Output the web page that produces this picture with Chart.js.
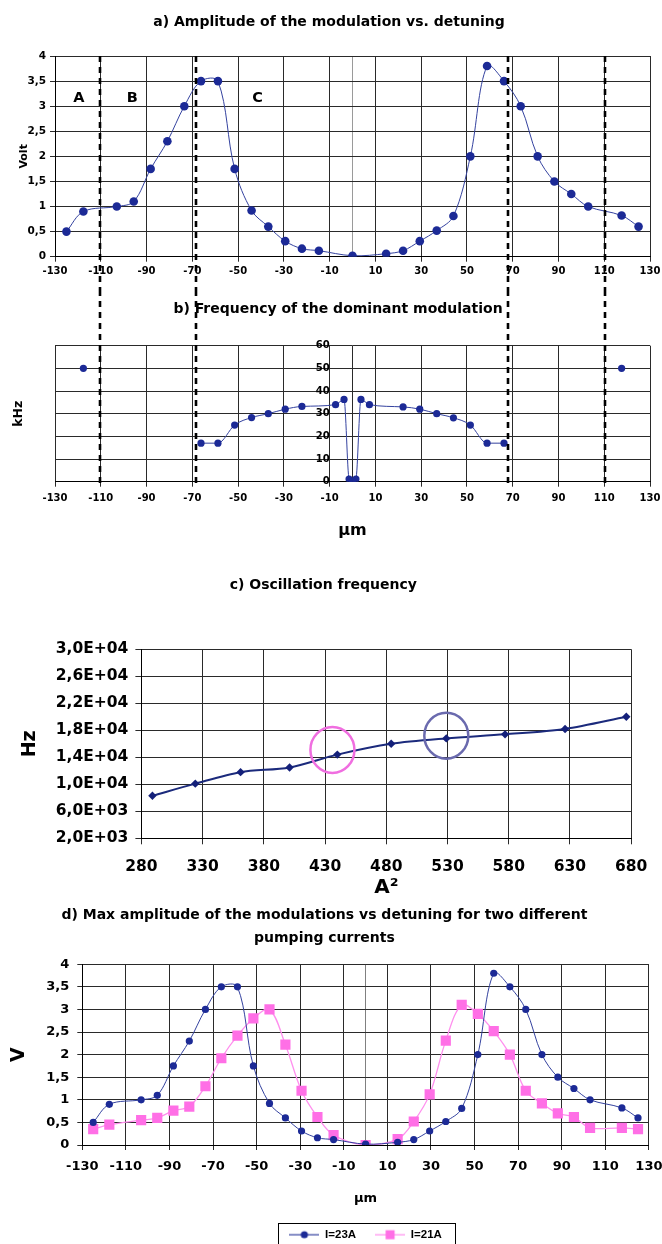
<!DOCTYPE html>
<html>
<head>
<meta charset="utf-8">
<script src="https://cdn.jsdelivr.net/npm/chart.js@4.4.1/dist/chart.umd.min.js"></script>
<style>
html,body{margin:0;padding:0;background:#fff;}
body{width:662px;height:1244px;position:relative;overflow:hidden;}
.box{position:absolute;left:0;width:662px;}
</style>
</head>
<body>
<div class="box" style="top:0;height:290px"><canvas id="ca" width="662" height="290"></canvas></div>
<div class="box" style="top:290px;height:255px"><canvas id="cb" width="662" height="255"></canvas></div>
<div class="box" style="top:545px;height:355px"><canvas id="cc" width="662" height="355"></canvas></div>
<div class="box" style="top:900px;height:344px"><canvas id="cd" width="662" height="344"></canvas></div>
<script>
// ---------------- data ----------------
const detuning = [-125, -117.6, -103, -95.6, -88.2, -80.9, -73.5, -66.2, -58.8, -51.5, -44.1, -36.8, -29.4, -22.1, -14.7, 0, 14.7, 22.1, 29.4, 36.8, 44.1, 51.5, 58.8, 66.2, 73.5, 80.9, 88.2, 95.6, 103, 117.6, 125];
const ampI23 = [0.5, 0.9, 1.0, 1.1, 1.75, 2.3, 3.0, 3.5, 3.5, 1.75, 0.92, 0.6, 0.31, 0.16, 0.12, 0.02, 0.06, 0.12, 0.31, 0.52, 0.81, 2.0, 3.8, 3.5, 3.0, 2.0, 1.5, 1.25, 1.0, 0.82, 0.6];
const ampI21 = [0.35, 0.45, 0.55, 0.6, 0.76, 0.85, 1.3, 1.92, 2.42, 2.8, 3.0, 2.22, 1.2, 0.62, 0.22, 0.0, 0.13, 0.52, 1.12, 2.31, 3.1, 2.9, 2.52, 2.0, 1.2, 0.92, 0.7, 0.62, 0.38, 0.38, 0.35];
const regionNames = ['A', 'B', 'C'];
const regionNameX = [-119.6, -96.2, -41.5];
const regionNameY = [3.15, 3.15, 3.15];
const regionBounds = [-110.5, -68.5, 68, 110.5];

const domX = [-66.2, -58.8, -51.5, -44.1, -36.8, -29.4, -22.1, -7.4, -3.7, -1.5, 0, 1.5, 3.7, 7.4, 22.1, 29.4, 36.8, 44.1, 51.5, 58.8, 66.2];
const domKHz = [17, 17, 25, 28.3, 30, 32, 33.2, 34, 36.3, 1.2, 0, 1.2, 36.3, 34, 33, 32, 30, 28.2, 25, 17, 17];
const isolatedX = [-117.6, 117.6];
const isolatedKHz = [50, 50];

const a2 = [289, 324, 361, 401, 440, 484, 529, 577, 626, 676];
const oscHz = [8300, 10100, 11800, 12500, 14400, 16000, 16800, 17400, 18200, 20000];
const ringA2 = [436, 529];
const ringHz = [15100, 17200];
const ringColors = ['#f06ee0', '#6a6aae'];

const seriesNames = ['I=23A', 'I=21A'];

// ---------------- helpers ----------------
const FONT = "'DejaVu Sans', 'Liberation Sans', Arial, sans-serif";
const LFONT = "'Liberation Sans', Arial, sans-serif";
Chart.defaults.font.family = FONT;
Chart.defaults.font.weight = 'bold';
Chart.defaults.color = '#000';
Chart.defaults.animation = false;
Chart.defaults.responsive = false;
Chart.defaults.devicePixelRatio = 1;
Chart.defaults.plugins.tooltip.enabled = false;

const BLUE = '#1c2a96', BLUE_LINE = '#34429f';
const PINK = '#ff6fe6', PINK_LINE = '#ff8fee';
const GRID = '#2a2a2a';

const pts = (xs, ys) => xs.map((x, i) => ({x, y: ys[i]}));
const comma = v => String(v).replace('.', ',');
const expFmt = v => {
  const [m, e] = Number(v).toExponential(1).split('e');
  const n = Math.abs(parseInt(e, 10));
  return m.replace('.', ',') + 'E' + (e[0] === '-' ? '-' : '+') + String(n).padStart(2, '0');
};
const addZeroTick = s => {
  if (!s.ticks.some(t => t.value === 0)) {
    s.ticks.push({value: 0});
    s.ticks.sort((p, q) => p.value - q.value);
  }
};
const noSidePad = h => s => { s.height = h; s.paddingLeft = 0; s.paddingRight = 0; };

const dashedBounds = {
  id: 'dashedBounds',
  afterDraw(chart, args, o) {
    const {ctx, scales: {x}, chartArea} = chart;
    const y0 = o.fromTop ? chartArea.top : 0;
    const y1 = o.fromTop ? chart.height : chartArea.bottom + 4;
    ctx.save();
    ctx.strokeStyle = '#000';
    ctx.lineWidth = 2.6;
    ctx.setLineDash([6, 5]);
    regionBounds.forEach(v => {
      const px = Math.round(x.getPixelForValue(v));
      ctx.beginPath(); ctx.moveTo(px, y0); ctx.lineTo(px, y1); ctx.stroke();
    });
    ctx.restore();
  }
};
const regionText = {
  id: 'regionText',
  afterDatasetsDraw(chart) {
    const {ctx, scales: {x, y}} = chart;
    ctx.save();
    ctx.font = 'bold 14.5px ' + FONT;
    ctx.fillStyle = '#000';
    ctx.textAlign = 'center';
    ctx.textBaseline = 'middle';
    regionNames.forEach((t, i) => ctx.fillText(t, x.getPixelForValue(regionNameX[i]), y.getPixelForValue(regionNameY[i])));
    ctx.restore();
  }
};
const rings = {
  id: 'rings',
  afterDatasetsDraw(chart) {
    const {ctx, scales: {x, y}} = chart;
    ctx.save();
    ctx.lineWidth = 2.5;
    ringA2.forEach((v, i) => {
      ctx.strokeStyle = ringColors[i];
      ctx.beginPath();
      ctx.ellipse(x.getPixelForValue(v), y.getPixelForValue(ringHz[i]), 22, 23, 0, 0, Math.PI * 2);
      ctx.stroke();
    });
    ctx.restore();
  }
};
const legendFrame = {
  id: 'legendFrame',
  afterDraw(chart) {
    const lg = chart.legend;
    if (!lg || !lg.legendHitBoxes || !lg.legendHitBoxes.length) return;
    const hb = lg.legendHitBoxes;
    const l = Math.min(...hb.map(h => h.left)) - 11;
    const r = Math.max(...hb.map(h => h.left + h.width)) + 13;
    const cy = hb[0].top + hb[0].height / 2;
    const ctx = chart.ctx;
    ctx.save();
    ctx.strokeStyle = '#000';
    ctx.lineWidth = 1;
    ctx.strokeRect(Math.round(l) + 0.5, Math.round(cy - 12) + 0.5, Math.round(r - l), 24);
    ctx.restore();
  }
};
function legendIcon(lineColor, color, square) {
  const c = document.createElement('canvas');
  c.width = 30; c.height = 12;
  const g = c.getContext('2d');
  g.strokeStyle = lineColor; g.lineWidth = 1.2;
  g.beginPath(); g.moveTo(0, 6); g.lineTo(30, 6); g.stroke();
  g.fillStyle = color;
  if (square) { g.fillRect(10.5, 1.5, 9, 9); }
  else { g.beginPath(); g.arc(15, 6, 3.6, 0, Math.PI * 2); g.fill(); }
  return c;
}
const gridX = zeroColor => ({
  color: c => (c.tick && c.tick.value === 0) ? zeroColor : GRID,
  tickColor: c => (c.tick && c.tick.value === 0) ? 'rgba(0,0,0,0)' : GRID,
  tickLength: 5, lineWidth: 1
});

// ---------------- a) ----------------
new Chart(document.getElementById('ca'), {
  type: 'scatter',
  data: {datasets: [{
    data: pts(detuning, ampI23), showLine: true, borderColor: BLUE_LINE, borderWidth: 1, tension: 0.35,
    pointRadius: 4.3, pointBackgroundColor: BLUE, pointBorderColor: BLUE, pointBorderWidth: 0
  }]},
  options: {
    layout: {padding: {left: 8, right: 12, top: 0, bottom: 0}},
    plugins: {
      legend: {display: false},
      title: {display: true, text: 'a) Amplitude of the modulation vs. detuning', font: {size: 14, weight: 'bold'}, color: '#000', padding: {top: 13.6, bottom: 25.6}},
      dashedBounds: {fromTop: true}
    },
    scales: {
      x: {
        type: 'linear', min: -130, max: 130,
        ticks: {stepSize: 20, autoSkip: false, maxRotation: 0, font: {size: 10}, padding: 4, callback: v => v === 0 ? '' : String(v)},
        afterBuildTicks: addZeroTick,
        grid: gridX('#9a9a9a'),
        border: {color: '#000'},
        afterFit: noSidePad(33.3)
      },
      y: {
        min: 0, max: 4,
        ticks: {stepSize: 0.5, font: {size: 10.5}, padding: 4, callback: comma},
        grid: {color: GRID, tickColor: GRID, tickLength: 5},
        border: {color: '#000'},
        title: {display: true, text: 'Volt', font: {size: 11, weight: 'bold'}, padding: {top: 10, bottom: 0}},
        afterFit: s => { s.width = 47; }
      }
    }
  },
  plugins: [dashedBounds, regionText]
});

// ---------------- b) ----------------
new Chart(document.getElementById('cb'), {
  type: 'scatter',
  data: {datasets: [
    {data: pts(domX, domKHz), showLine: true, borderColor: BLUE_LINE, borderWidth: 1, cubicInterpolationMode: 'monotone',
     pointRadius: 3.6, pointBackgroundColor: BLUE, pointBorderColor: BLUE, pointBorderWidth: 0},
    {data: pts(isolatedX, isolatedKHz), showLine: false,
     pointRadius: 3.6, pointBackgroundColor: BLUE, pointBorderColor: BLUE, pointBorderWidth: 0}
  ]},
  options: {
    layout: {padding: {left: 26, right: 12, top: 0, bottom: 0}},
    plugins: {
      legend: {display: false},
      title: {display: true, text: 'b) Frequency of the dominant modulation', font: {size: 14, weight: 'bold'}, color: '#000', padding: {top: 10.6, bottom: 28.3}},
      dashedBounds: {fromTop: false}
    },
    scales: {
      x: {
        type: 'linear', min: -130, max: 130,
        ticks: {stepSize: 20, autoSkip: false, maxRotation: 0, font: {size: 10}, padding: 6, callback: v => v === 0 ? '' : String(v)},
        afterBuildTicks: addZeroTick,
        grid: gridX(GRID),
        border: {color: '#000'},
        title: {display: true, text: 'μm', font: {size: 16, weight: 'bold'}, padding: {top: 0, bottom: 5}},
        afterFit: noSidePad(63.3)
      },
      y: {
        position: {x: -10},
        min: 0, max: 60,
        ticks: {stepSize: 10, font: {size: 10}, padding: 2},
        grid: {color: GRID, drawTicks: false},
        border: {display: false}
      },
      yk: {
        type: 'linear', position: 'left', min: 0, max: 60,
        ticks: {display: false},
        grid: {display: false},
        border: {display: false},
        title: {display: true, text: 'kHz', font: {size: 12.5, weight: 'bold'}, padding: {top: -14.5, bottom: 0}},
        afterFit: s => { s.width = 29; }
      }
    }
  },
  plugins: [dashedBounds]
});

// ---------------- c) ----------------
new Chart(document.getElementById('cc'), {
  type: 'scatter',
  data: {datasets: [{
    data: pts(a2, oscHz), showLine: true, borderColor: '#1b2a7c', borderWidth: 2, tension: 0.3,
    pointStyle: 'rectRot', pointRadius: 4.2, pointBackgroundColor: '#14207a', pointBorderColor: '#14207a', pointBorderWidth: 0
  }]},
  options: {
    layout: {padding: {left: 15.4, right: 30.8, top: 0, bottom: 0}},
    plugins: {
      legend: {display: false},
      title: {display: true, text: 'c) Oscillation frequency', font: {size: 14, weight: 'bold'}, color: '#000', padding: {top: 31.6, bottom: 55.9}}
    },
    scales: {
      x: {
        type: 'linear', min: 280, max: 680,
        ticks: {stepSize: 50, autoSkip: false, maxRotation: 0, font: {size: 15.5}, padding: 13},
        grid: {color: GRID, tickColor: GRID, tickLength: 6},
        border: {color: '#000'},
        title: {display: true, text: 'A²', font: {size: 20, weight: 'bold'}, padding: {top: 0, bottom: 0}},
        afterFit: noSidePad(61.7)
      },
      y: {
        min: 2000, max: 30000,
        ticks: {stepSize: 4000, font: {size: 15.5}, padding: 7, callback: expFmt},
        grid: {color: GRID, tickColor: GRID, tickLength: 6},
        border: {color: '#000'},
        title: {display: true, text: 'Hz', font: {size: 19, weight: 'bold'}, padding: {top: 3.2, bottom: 0}},
        afterFit: s => { s.width = 126; }
      }
    }
  },
  plugins: [rings]
});

// ---------------- d) ----------------
const icons = [legendIcon(BLUE_LINE, BLUE, false), legendIcon(PINK_LINE, PINK, true)];
new Chart(document.getElementById('cd'), {
  type: 'scatter',
  data: {datasets: [
    {label: seriesNames[0], data: pts(detuning, ampI23), showLine: true, borderColor: BLUE_LINE, borderWidth: 1, tension: 0.35,
     pointRadius: 3.6, pointBackgroundColor: BLUE, pointBorderColor: BLUE, pointBorderWidth: 0},
    {label: seriesNames[1], data: pts(detuning, ampI21), showLine: true, borderColor: PINK_LINE, borderWidth: 1.3, tension: 0.35,
     pointStyle: 'rect', pointRadius: 7.2, pointBackgroundColor: PINK, pointBorderColor: PINK, pointBorderWidth: 0}
  ]},
  options: {
    layout: {padding: {left: 0, right: 13.1, top: 0, bottom: 0}},
    plugins: {
      title: {display: true, text: ['d) Max amplitude of the modulations vs detuning for two different', 'pumping currents'],
        font: {size: 14, weight: 'bold', lineHeight: 1.64}, color: '#000', padding: {top: 3.5, bottom: 14.8}},
      legend: {
        display: true, position: 'bottom', fullSize: false, maxHeight: 34,
        labels: {
          usePointStyle: true, pointStyleWidth: 30, boxHeight: 11, padding: 19, color: '#000',
          font: {size: 11.5, weight: 'bold', family: LFONT},
          generateLabels: chart => chart.data.datasets.map((ds, i) => ({
            text: ds.label, pointStyle: icons[i], fillStyle: ds.pointBackgroundColor, strokeStyle: ds.borderColor,
            lineWidth: 0, hidden: false, datasetIndex: i, fontColor: '#000'
          }))
        }
      }
    },
    scales: {
      x: {
        type: 'linear', min: -130, max: 130,
        ticks: {stepSize: 20, autoSkip: false, maxRotation: 0, font: {size: 13}, padding: 9, callback: v => v === 0 ? '' : String(v)},
        afterBuildTicks: addZeroTick,
        grid: gridX('#808080'),
        border: {color: '#000'},
        title: {display: true, text: 'μm', font: {size: 13, weight: 'bold'}, padding: {top: 0, bottom: 4}},
        afterFit: noSidePad(65)
      },
      y: {
        min: 0, max: 4,
        ticks: {stepSize: 0.5, font: {size: 13}, padding: 8, callback: comma},
        grid: {color: GRID, tickColor: GRID, tickLength: 5},
        border: {color: '#000'},
        title: {display: true, text: 'V', font: {size: 19, weight: 'bold'}, padding: {top: 8, bottom: 0}},
        afterFit: s => { s.width = 82.3; }
      }
    }
  },
  plugins: [legendFrame]
});
</script>
</body>
</html>
